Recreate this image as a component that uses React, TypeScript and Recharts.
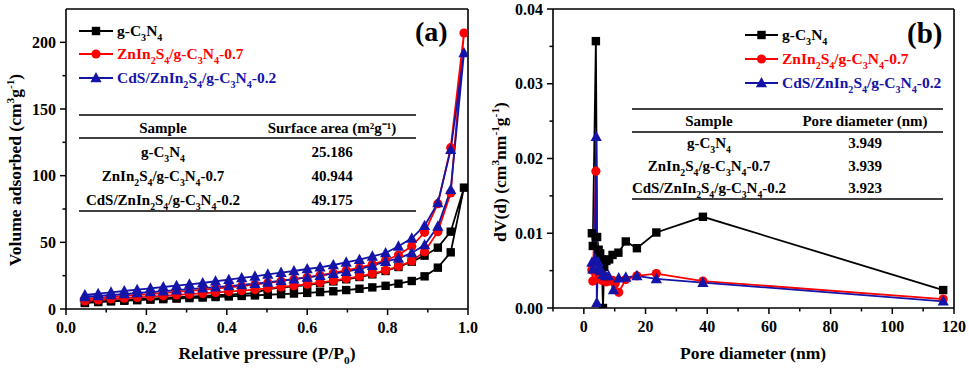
import React from 'react';
import { Line, LineChart, ReferenceLine, XAxis, YAxis } from 'recharts';

const FONT = '"Liberation Serif", "Times New Roman", serif';
const BLACK = '#000000';
const RED = '#ff0000';
const BLUE = '#1414a8';

// (a) N2 adsorption–desorption isotherms
const pressure = [
  0.047, 0.08, 0.112, 0.145, 0.177, 0.21, 0.242, 0.275, 0.307, 0.34, 0.372, 0.405, 0.437, 0.47, 0.502,
  0.535, 0.567, 0.6, 0.632, 0.665, 0.697, 0.73, 0.762, 0.795, 0.827, 0.86, 0.892, 0.925, 0.957, 0.99,
];
const gcnAds = [
  4.5, 5.2, 5.7, 6.2, 6.6, 7.0, 7.4, 7.8, 8.2, 8.6, 9.0, 9.4, 9.8, 10.2, 10.7,
  11.1, 11.6, 12.1, 12.7, 13.3, 14.2, 15.2, 16.2, 17.4, 19.0, 21.0, 24.5, 31.0, 42.5, 91,
];
const gcnDes = [
  5.0, 5.7, 6.3, 6.8, 7.3, 7.8, 8.3, 8.8, 9.3, 9.8, 10.3, 10.8, 11.3, 11.9, 15.0,
  16.0, 17.0, 18.0, 19.3, 20.7, 22.3, 24.0, 26.0, 28.5, 31.5, 35.5, 40.0, 46.0, 58.0, 91,
];
const znAds = [
  6.0, 6.8, 7.5, 8.1, 8.7, 9.3, 9.9, 10.5, 11.1, 11.7, 12.4, 13.1, 13.8, 14.6, 15.5,
  16.5, 17.5, 18.6, 19.8, 21.2, 22.8, 24.5, 26.5, 29.0, 32.0, 36.0, 43.0, 58.0, 87.0, 207,
];
const znDes = [
  7.5, 8.3, 9.0, 9.8, 10.5, 11.2, 12.0, 12.8, 13.6, 14.4, 15.3, 16.2, 17.2, 18.3, 19.6,
  21.0, 22.4, 23.8, 25.3, 27.0, 29.0, 31.0, 33.5, 36.5, 40.5, 47.0, 57.5, 79.0, 121, 207,
];
const cdsAds = [
  9.0, 9.8, 10.5, 11.2, 12.0, 12.7, 13.4, 14.1, 14.9, 15.6, 16.4, 17.2, 18.0, 19.0, 20.0,
  21.2, 22.4, 23.7, 25.0, 26.5, 28.0, 30.0, 32.5, 35.5, 38.0, 42.0, 48.0, 62.0, 89.5, 192,
];
const cdsDes = [
  10.5, 11.5, 12.5, 13.5, 14.5, 15.5, 16.5, 17.5, 18.5, 19.5, 20.8, 22.0, 23.3, 24.5, 26.0,
  27.3, 28.5, 30.0, 31.3, 33.0, 35.0, 37.0, 39.5, 42.0, 47.0, 53.0, 62.5, 79.5, 119.5, 192,
];
const isoXTicks = [0, 0.1, 0.2, 0.3, 0.4, 0.5, 0.6, 0.7, 0.8, 0.9, 1.0];
const isoYTicks = [0, 25, 50, 75, 100, 125, 150, 175, 200];

// (b) pore size distribution
const gcnPore = [2.6, 2.9, 3.9, 4.3, 4.8, 5.3, 5.8, 6.2, 6.6, 7.3, 8.2, 9.3, 11.2, 13.6, 17.2, 23.5, 38.6, 116.5];
const gcnDv = [
  0.01, 0.0083, 0.0357, 0.0095, 0.0078, 0.0073, 0.0065, 0.0, 0.0055, 0.0063, 0.0065, 0.0071, 0.0074,
  0.0089, 0.008, 0.0101, 0.0122, 0.0024,
];
const znPore = [2.6, 2.9, 3.9, 4.3, 4.8, 5.3, 5.8, 6.6, 7.3, 8.2, 9.3, 10.2, 11.3, 13.6, 17.2, 23.5, 38.6, 116.5];
const znDv = [
  0.0051, 0.0036, 0.0183, 0.005, 0.0044, 0.004, 0.0037, 0.0036, 0.0035, 0.0036, 0.0037, 0.0033, 0.0021,
  0.0038, 0.0043, 0.0046, 0.0036, 0.0012,
];
const cdsPore = [2.6, 2.9, 3.5, 4.0, 4.2, 4.6, 5.0, 5.5, 6.2, 7.0, 8.0, 9.6, 11.3, 13.6, 17.2, 23.5, 38.6, 116.5];
const cdsDv = [
  0.0061, 0.0052, 0.0065, 0.0229, 0.0007, 0.0062, 0.0055, 0.005, 0.0045, 0.0043, 0.0043, 0.0024, 0.004,
  0.0041, 0.0043, 0.0039, 0.0034, 0.0009,
];
const poreXTicks = [-10, 0, 10, 20, 30, 40, 50, 60, 70, 80, 90, 100, 110, 120];
const poreYTicks = [0, 0.005, 0.01, 0.015, 0.02, 0.025, 0.03, 0.035, 0.04];

const surfaceRows = [
  ['g-C_3N_4', '25.186'],
  ['ZnIn_2S_4/g-C_3N_4-0.7', '40.944'],
  ['CdS/ZnIn_2S_4/g-C_3N_4-0.2', '49.175'],
];
const poreRows = [
  ['g-C_3N_4', '3.949'],
  ['ZnIn_2S_4/g-C_3N_4-0.7', '3.939'],
  ['CdS/ZnIn_2S_4/g-C_3N_4-0.2', '3.923'],
];
const seriesNames = ['g-C_3N_4', 'ZnIn_2S_4/g-C_3N_4-0.7', 'CdS/ZnIn_2S_4/g-C_3N_4-0.2'];
const seriesColors = [BLACK, RED, BLUE];

function loop(ads: number[], des: number[]) {
  const up = pressure.map((p, i) => ({ x: p, y: ads[i] }));
  const down = pressure.map((p, i) => ({ x: p, y: des[i] })).reverse().slice(1);
  return [...up, ...down];
}

function pairs(xs: number[], ys: number[]) {
  return xs.map((x, i) => ({ x, y: ys[i] }));
}

function Marker({ kind, cx, cy }: { kind: number; cx: number; cy: number }) {
  if (kind === 0) return <rect x={cx - 4.2} y={cy - 4.2} width={8.4} height={8.4} fill={BLACK} />;
  if (kind === 1) return <circle cx={cx} cy={cy} r={4.6} fill={RED} />;
  return <polygon points={`${cx},${cy - 6} ${cx - 5.6},${cy + 4.3} ${cx + 5.6},${cy + 4.3}`} fill={BLUE} />;
}

function dotFor(kind: number) {
  return (p: any) => {
    if (p.cx == null || p.cy == null) return <g key={p.index} />;
    return <Marker key={p.index} kind={kind} cx={p.cx} cy={p.cy} />;
  };
}

function RichText({
  x,
  y,
  text,
  size,
  fill = BLACK,
  anchor = 'start',
  rotate,
}: {
  x: number;
  y: number;
  text: string;
  size: number;
  fill?: string;
  anchor?: 'start' | 'middle' | 'end';
  rotate?: number;
}) {
  const parts: { t: string; k: string }[] = [];
  const re = /([_^])(\{[^}]*\}|.)/g;
  let last = 0;
  let m: RegExpExecArray | null;
  while ((m = re.exec(text))) {
    if (m.index > last) parts.push({ t: text.slice(last, m.index), k: 'n' });
    let s = m[2];
    if (s.startsWith('{')) s = s.slice(1, -1);
    parts.push({ t: s, k: m[1] === '_' ? 'sub' : 'sup' });
    last = re.lastIndex;
  }
  if (last < text.length) parts.push({ t: text.slice(last), k: 'n' });
  let shift = 0;
  return (
    <text
      x={x}
      y={y}
      fontSize={size}
      fontFamily={FONT}
      fontWeight="bold"
      fill={fill}
      textAnchor={anchor}
      transform={rotate ? `rotate(${rotate} ${x} ${y})` : undefined}
    >
      {parts.map((p, i) => {
        const target = p.k === 'sub' ? size * 0.3 : p.k === 'sup' ? -size * 0.4 : 0;
        const dy = target - shift;
        shift = target;
        return (
          <tspan key={i} dy={dy || undefined} fontSize={p.k === 'n' ? size : size * 0.65}>
            {p.t}
          </tspan>
        );
      })}
    </text>
  );
}

function xTick(isMajor: (v: number) => boolean, fmt: (v: number) => string) {
  return (props: any) => {
    const { x, y, payload } = props;
    const v = payload.value as number;
    const major = isMajor(v);
    return (
      <g key={`xt-${v}`}>
        <line x1={x} x2={x} y1={y} y2={y + (major ? 6 : 3.5)} stroke={BLACK} strokeWidth={1.5} />
        {major ? (
          <text x={x} y={y + 24} textAnchor="middle" fontSize={16} fontFamily={FONT} fontWeight="bold" fill={BLACK}>
            {fmt(v)}
          </text>
        ) : null}
      </g>
    );
  };
}

function yTick(isMajor: (v: number) => boolean, fmt: (v: number) => string) {
  return (props: any) => {
    const { x, y, payload } = props;
    const v = payload.value as number;
    const major = isMajor(v);
    return (
      <g key={`yt-${v}`}>
        <line x1={x} x2={x - (major ? 6 : 3.5)} y1={y} y2={y} stroke={BLACK} strokeWidth={1.5} />
        {major ? (
          <text x={x - 10} y={y + 5.5} textAnchor="end" fontSize={16} fontFamily={FONT} fontWeight="bold" fill={BLACK}>
            {fmt(v)}
          </text>
        ) : null}
      </g>
    );
  };
}

const axisLine = { stroke: BLACK, strokeWidth: 1.6 };

function IsothermChart() {
  const series = [loop(gcnAds, gcnDes), loop(znAds, znDes), loop(cdsAds, cdsDes)];
  return (
    <LineChart width={480} height={368} margin={{ top: 9, right: 12, bottom: 0, left: 0 }}>
      <XAxis
        dataKey="x"
        type="number"
        domain={[0, 1]}
        ticks={isoXTicks}
        interval={0}
        allowDataOverflow
        height={59}
        tickSize={0}
        tickMargin={0}
        tickLine={false}
        axisLine={axisLine}
        tick={xTick((v) => Math.round(v * 10) % 2 === 0, (v) => v.toFixed(1))}
      />
      <YAxis
        dataKey="y"
        type="number"
        domain={[0, 225]}
        ticks={isoYTicks}
        interval={0}
        allowDataOverflow
        width={66}
        tickSize={0}
        tickMargin={0}
        tickLine={false}
        axisLine={axisLine}
        tick={yTick((v) => v % 50 === 0, (v) => String(v))}
      />
      <ReferenceLine y={225} stroke={BLACK} strokeWidth={1.6} />
      <ReferenceLine x={1} stroke={BLACK} strokeWidth={1.6} />
      {series.map((d, k) => (
        <Line
          key={k}
          data={d}
          dataKey="y"
          stroke={seriesColors[k]}
          strokeWidth={1.8}
          dot={dotFor(k)}
          activeDot={false}
          isAnimationActive={false}
        />
      ))}
    </LineChart>
  );
}

function PoreChart() {
  const series = [pairs(gcnPore, gcnDv), pairs(znPore, znDv), pairs(cdsPore, cdsDv)];
  return (
    <LineChart width={489} height={368} margin={{ top: 9, right: 15, bottom: 0, left: 0 }}>
      <XAxis
        dataKey="x"
        type="number"
        domain={[-10, 120]}
        ticks={poreXTicks}
        interval={0}
        allowDataOverflow
        height={60}
        tickSize={0}
        tickMargin={0}
        tickLine={false}
        axisLine={axisLine}
        tick={xTick((v) => v >= 0 && v % 20 === 0, (v) => String(v))}
      />
      <YAxis
        dataKey="y"
        type="number"
        domain={[0, 0.04]}
        ticks={poreYTicks}
        interval={0}
        allowDataOverflow
        width={73}
        tickSize={0}
        tickMargin={0}
        tickLine={false}
        axisLine={axisLine}
        tick={yTick((v) => Math.round(v * 1000) % 10 === 0, (v) => v.toFixed(2))}
      />
      <ReferenceLine y={0.04} stroke={BLACK} strokeWidth={1.6} />
      <ReferenceLine x={120} stroke={BLACK} strokeWidth={1.6} />
      {series.map((d, k) => (
        <Line
          key={k}
          data={d}
          dataKey="y"
          stroke={seriesColors[k]}
          strokeWidth={1.8}
          dot={dotFor(k)}
          activeDot={false}
          isAnimationActive={false}
        />
      ))}
    </LineChart>
  );
}

function LegendBlock({ x0, x1, tx, rows }: { x0: number; x1: number; tx: number; rows: number[] }) {
  return (
    <g>
      {seriesNames.map((name, k) => (
        <g key={k}>
          <line x1={x0} x2={x1} y1={rows[k]} y2={rows[k]} stroke={seriesColors[k]} strokeWidth={2} />
          <Marker kind={k} cx={(x0 + x1) / 2} cy={rows[k]} />
          <RichText x={tx} y={rows[k] + 5} text={name} size={15.5} fill={seriesColors[k]} />
        </g>
      ))}
    </g>
  );
}

function TableBlock({
  x0,
  x1,
  lines,
  c1,
  c2,
  header,
  headY,
  rowY,
  rows,
}: {
  x0: number;
  x1: number;
  lines: number[];
  c1: number;
  c2: number;
  header: string;
  headY: number;
  rowY: number[];
  rows: string[][];
}) {
  return (
    <g>
      {lines.map((ly, i) => (
        <line key={i} x1={x0} x2={x1} y1={ly} y2={ly} stroke={BLACK} strokeWidth={1.5} />
      ))}
      <RichText x={c1} y={headY} text="Sample" size={15} anchor="middle" />
      <RichText x={c2} y={headY} text={header} size={15} anchor="middle" />
      {rows.map((r, i) => (
        <g key={i}>
          <RichText x={c1} y={rowY[i]} text={r[0]} size={15} anchor="middle" />
          <RichText x={c2} y={rowY[i]} text={r[1]} size={15} anchor="middle" />
        </g>
      ))}
    </g>
  );
}

export default function App() {
  return (
    <div style={{ position: 'absolute', left: 0, top: 0, width: 969, height: 368, background: '#fff' }}>
      <div style={{ position: 'absolute', left: 0, top: 0 }}>
        <IsothermChart />
      </div>
      <div style={{ position: 'absolute', left: 480, top: 0 }}>
        <PoreChart />
      </div>
      <svg
        width={969}
        height={368}
        style={{ position: 'absolute', left: 0, top: 0, pointerEvents: 'none' }}
      >
        {/* panel (a) */}
        <LegendBlock x0={79} x1={113} tx={117} rows={[31, 54, 78]} />
        <text x={415} y={41} fontSize={28} fontFamily={FONT} fontWeight="bold" fill={BLACK}>
          (a)
        </text>
        <TableBlock
          x0={79}
          x1={416}
          lines={[115, 138, 211]}
          c1={163}
          c2={332}
          header="Surface area (m²g⁻¹)"
          headY={133}
          rowY={[157, 181, 205]}
          rows={surfaceRows}
        />
        <RichText x={267} y={359} text="Relative pressure (P/P_0)" size={17.5} anchor="middle" />
        <RichText x={21} y={170} text="Volume adsorbed (cm^3g^{-1})" size={17.5} anchor="middle" rotate={-90} />

        {/* panel (b) */}
        <LegendBlock x0={745} x1={778} tx={782} rows={[35, 59, 83]} />
        <text x={907} y={43} fontSize={29} fontFamily={FONT} fontWeight="bold" fill={BLACK}>
          (b)
        </text>
        <TableBlock
          x0={632}
          x1={943}
          lines={[109, 132, 199]}
          c1={709}
          c2={865}
          header="Pore diameter (nm)"
          headY={126}
          rowY={[148, 171, 193]}
          rows={poreRows}
        />
        <RichText x={753} y={359} text="Pore diameter (nm)" size={17.5} anchor="middle" />
        <RichText x={506} y={172} text="dV(d) (cm^3nm^{-1}g^{-1})" size={17.5} anchor="middle" rotate={-90} />
      </svg>
    </div>
  );
}
